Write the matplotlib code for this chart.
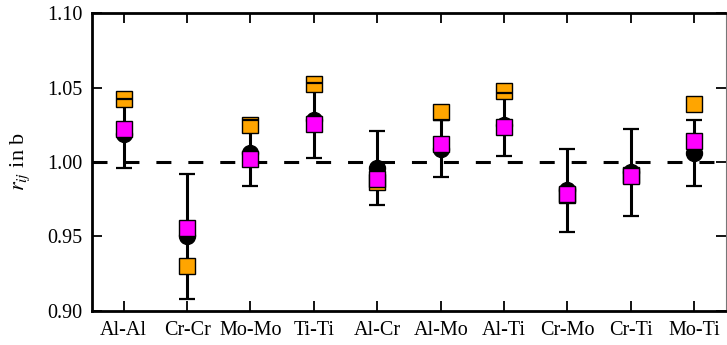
#!/usr/bin/env python3
import numpy as np
import matplotlib
matplotlib.use("Agg")
import matplotlib.pyplot as plt

# pairs on the x axis
pairs = ["Al-Al", "Cr-Cr", "Mo-Mo", "Ti-Ti", "Al-Cr", "Al-Mo", "Al-Ti", "Cr-Mo", "Cr-Ti", "Mo-Ti"]

# black circles with error bars
r_black = [1.019, 0.950, 1.006, 1.028, 0.996, 1.009, 1.025, 0.981, 0.993, 1.006]
r_err = [0.023, 0.042, 0.022, 0.025, 0.025, 0.019, 0.021, 0.028, 0.029, 0.022]
# orange squares
r_orange = [1.0425, 0.930, 1.025, 1.0526, 0.9866, 1.0338, 1.0474, 0.978, 0.991, 1.0388]
# magenta squares
r_magenta = [1.022, 0.9558, 1.002, 1.0255, 0.9886, 1.0122, 1.0237, 0.9783, 0.9908, 1.0139]

plt.rcParams["font.family"] = ["Liberation Serif", "DejaVu Serif"]
plt.rcParams["mathtext.fontset"] = "stix"
plt.rcParams["lines.scale_dashes"] = False


def main():
    x = np.arange(len(pairs))
    fig = plt.figure(figsize=(7.27, 3.45), dpi=100)
    ax = fig.add_axes([0.1265, 0.0986, 0.8721, 0.8637])

    ax.axhline(1.0, color="black", lw=2.2, dashes=(10.8, 12.2), zorder=1)

    # error bars: vertical bars below the squares, caps above orange
    _, caps, bars = ax.errorbar(x, r_black, yerr=r_err, fmt="none", ecolor="black",
                                elinewidth=2.2, capsize=5.8, capthick=1.6)
    for b in bars:
        b.set_zorder(2)
    for c in caps:
        c.set_zorder(3.5)

    ax.plot(x, r_black, "o", color="black", ms=11.5, zorder=2.5)
    ax.plot(x, r_orange, "s", color="#ffa500", mec="black", mew=1.0, ms=11, zorder=3)
    ax.plot(x, r_magenta, "s", color="#ff00ff", mec="black", mew=1.0, ms=11, zorder=4)

    ax.set_xlim(-0.5, 9.5)
    ax.set_ylim(0.90, 1.10)
    ax.set_xticks(x)
    ax.set_xticklabels(pairs)
    ax.set_yticks([0.90, 0.95, 1.00, 1.05, 1.10])
    ax.set_yticklabels(["0.90", "0.95", "1.00", "1.05", "1.10"])
    ax.tick_params(axis="both", direction="in", labelsize=14.5, width=1.3)
    ax.tick_params(axis="x", top=True, length=7.2, pad=7)
    ax.tick_params(axis="y", right=True, length=7.5, pad=7)
    ax.set_ylabel(r"$r_{ij}$ in b", fontsize=16, labelpad=11)

    for side in ["left", "top", "bottom"]:
        ax.spines[side].set_linewidth(2.0)
    ax.spines["right"].set_linewidth(0.8)
    ax.spines["right"].set_color("#777777")

    fig.savefig("out.png", dpi=100)
    plt.close(fig)


if __name__ == "__main__":
    main()
